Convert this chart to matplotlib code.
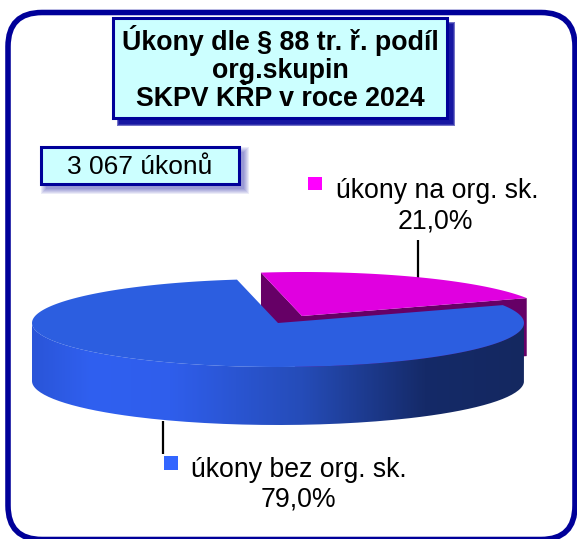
import numpy as np
import matplotlib
matplotlib.use("Agg")
import matplotlib.pyplot as plt
from matplotlib.patches import FancyBboxPatch, PathPatch, Polygon, Rectangle
from matplotlib.path import Path
from matplotlib.colors import LinearSegmentedColormap

title = "Úkony dle § 88 tr. ř. podíl\norg.skupin\nSKPV KŘP v roce 2024"
count_label = "3 067 úkonů"
categories = ["úkony na org. sk.", "úkony bez org. sk."]
shares = [21.0, 79.0]
share_labels = ["21,0%", "79,0%"]

NAVY = "#000099"
BOX = "#CCFFFF"
FONT = "Liberation Sans"

# pie geometry in pixels
RX, RY, DEPTH = 246, 44, 58
START = 24
CENTER_BLUE = (278, 323)
CENTER_MAGENTA = (302, 316)


def ell(c, t):
    t = np.radians(t)
    return np.column_stack([c[0] + RX * np.cos(t), c[1] - RY * np.sin(t)])


def shadow_box(ax, x0, y0, x1, y1, off, color, alpha, steps):
    # soft shadow, drawn as a few stacked rectangles
    for i in range(steps):
        g = (steps - 1 - i) * 1.0
        ax.add_patch(Rectangle((x0 + off - g, y0 + off - g), x1 - x0 + 2 * g, y1 - y0 + 2 * g,
                               fc=color, ec="none", alpha=alpha, zorder=5))
    ax.add_patch(Rectangle((x0, y0), x1 - x0, y1 - y0, fc=BOX, ec=NAVY, lw=2.2, zorder=6))


fig = plt.figure(figsize=(5.77, 5.39), dpi=100)
ax = fig.add_axes([0, 0, 1, 1])
ax.set_xlim(0, 577)
ax.set_ylim(539, 0)
ax.axis("off")

# frame
ax.add_patch(FancyBboxPatch((8, 12.5), 567, 527, boxstyle="round,pad=0,rounding_size=34",
                            fc="white", ec=NAVY, lw=4.0, zorder=1))

# angles of the two slices
sweep_m = shares[0] * 3.6
a0, a1 = START, START + sweep_m
a2 = START + 360

# magenta slice, pulled out
cm = np.array(CENTER_MAGENTA)
top_m = ell(cm, np.linspace(a0, a1, 80))
down = np.array([0, DEPTH])
ax.add_patch(Polygon([top_m[-1], cm, cm + down, top_m[-1] + down], fc="#660066", ec="none", zorder=2))
ax.add_patch(Polygon([cm, top_m[0], top_m[0] + down, cm + down], fc="#660066", ec="none", zorder=2))
ax.add_patch(Polygon(np.vstack([cm, top_m]), fc="#E000E0", ec="none", zorder=2.5))

# blue slice side with horizontal gradient
cb = np.array(CENTER_BLUE)
cmap = LinearSegmentedColormap.from_list("side", [(0, "#2A55D8"), (0.12, "#3060F0"), (0.28, "#2F5EEC"),
                                                  (0.55, "#254CB8"), (0.8, "#152A68"), (1, "#142860")])
lower = ell(cb, np.linspace(180, 360, 120))
side = np.vstack([lower, lower[::-1] + down])
side_patch = PathPatch(Path(side), fc="none", ec="none", transform=ax.transData)
ax.add_patch(side_patch)
im = ax.imshow(np.linspace(0, 1, 256)[None, :], cmap=cmap, extent=(32, 524, 430, 320),
               aspect="auto", zorder=3)
im.set_clip_path(side_patch)
ax.set_xlim(0, 577)
ax.set_ylim(539, 0)

# blue top
top_b = ell(cb, np.linspace(a1, a2, 240))
ax.add_patch(Polygon(np.vstack([cb, top_b]), fc="#2C5EE0", ec="none", zorder=4))

# leader lines
ax.plot([418, 418], [240, 278], color="black", lw=1.6, zorder=2, solid_capstyle="butt")
ax.plot([163, 163], [421, 454], color="black", lw=1.6, zorder=2, solid_capstyle="butt")

# boxes
shadow_box(ax, 113, 18, 447, 118, 6, NAVY, 0.55, 3)
ax.text(280, 68, title, ha="center", va="center", fontsize=19.3, fontweight="bold",
        family=FONT, linespacing=1.1, color="black", zorder=7)
shadow_box(ax, 41, 147, 239, 184, 5, NAVY, 0.08, 6)
ax.text(140, 167, count_label, ha="center", va="center", fontsize=19, family=FONT, zorder=7)

# legend labels
ax.add_patch(Rectangle((308, 177), 14, 13, fc="#FF00FF", ec="none", zorder=7))
ax.text(437, 191, categories[0], ha="center", va="center", fontsize=19.2, family=FONT, zorder=7)
ax.text(435, 221, share_labels[0], ha="center", va="center", fontsize=19.2, family=FONT, zorder=7)
ax.add_patch(Rectangle((164, 456), 14, 14, fc="#3366FF", ec="none", zorder=7))
ax.text(299, 470, categories[1], ha="center", va="center", fontsize=19.2, family=FONT, zorder=7)
ax.text(298, 500, share_labels[1], ha="center", va="center", fontsize=19.2, family=FONT, zorder=7)

fig.savefig("out.png", dpi=100)
